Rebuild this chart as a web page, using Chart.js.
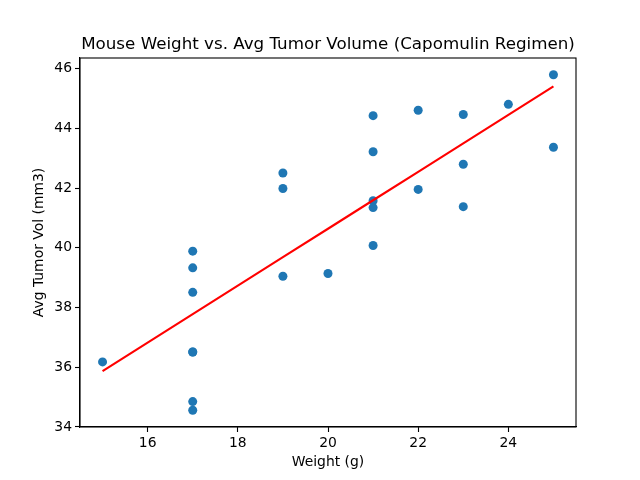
<!DOCTYPE html>
<html>
<head>
<meta charset="utf-8">
<script src="https://cdn.jsdelivr.net/npm/chart.js@4"></script>
<style>
html,body{margin:0;padding:0;background:#fff;}
#c{display:block;}
</style>
</head>
<body>
<canvas id="c" width="640" height="480"></canvas>
<script>
// Data: mouse weight (g) and average tumor volume (mm3), Capomulin regimen
const weights = [22, 21, 17, 19, 22, 24, 20, 23, 21, 21, 19, 17, 19, 25, 17, 25, 17, 23, 17, 17, 21, 23, 21, 15, 17];
const avgTumorVol = [41.96, 40.08, 36.51, 41.99, 44.61, 44.81, 39.14, 44.47, 43.22, 44.43, 42.51, 34.85, 39.05, 45.80, 36.51, 43.37, 34.56, 42.80, 39.33, 39.89, 41.58, 41.38, 41.35, 36.18, 38.51];
const xTicks = [16, 18, 20, 22, 24];
const yTicks = [34, 36, 38, 40, 42, 44, 46];
const titleText = 'Mouse Weight vs. Avg Tumor Volume (Capomulin Regimen)';

// Linear regression from data
const n = weights.length;
const mx = weights.reduce((a,b)=>a+b,0)/n;
const my = avgTumorVol.reduce((a,b)=>a+b,0)/n;
let sxy=0, sxx=0;
for (let i=0;i<n;i++){ sxy += (weights[i]-mx)*(avgTumorVol[i]-my); sxx += (weights[i]-mx)**2; }
const slope = sxy/sxx, intercept = my - slope*mx;
const sortedW = [...new Set(weights)].sort((a,b)=>a-b);
const lineData = sortedW.map(w => ({x:w, y:slope*w+intercept}));
const scatterData = weights.map((w,i)=>({x:w, y:avgTumorVol[i]}));

function pad(arr){ const lo=Math.min(...arr), hi=Math.max(...arr), m=(hi-lo)*0.05; return [lo-m, hi+m]; }
const [xmin,xmax] = pad(weights);
const [ymin,ymax] = pad(avgTumorVol);

const FONT = "'DejaVu Sans', sans-serif";

const boxPlugin = {
  id:'box',
  afterDraw(chart){
    const {ctx, chartArea:a} = chart;
    ctx.save();
    ctx.strokeStyle='#000'; ctx.lineWidth=1.1;
    ctx.strokeRect(a.left, a.top, a.right-a.left, a.bottom-a.top);
    ctx.fillStyle='#000';
    ctx.font = "16.7px " + FONT;
    ctx.textAlign='center'; ctx.textBaseline='alphabetic';
    ctx.fillText(titleText, (a.left+a.right)/2, a.top - 9);
    ctx.restore();
  }
};

new Chart(document.getElementById('c'), {
  type:'scatter',
  data:{
    datasets:[
      {type:'scatter', data:scatterData, backgroundColor:'#1f77b4', borderColor:'#1f77b4', pointRadius:4.5, pointHoverRadius:4.5, borderWidth:0, order:2},
      {type:'line', data:lineData, borderColor:'#ff0000', borderWidth:2.1, pointRadius:0, fill:false, tension:0, order:1}
    ]
  },
  plugins:[boxPlugin],
  options:{
    responsive:false, animation:false, devicePixelRatio:1,
    layout:{padding:{left:0, right:64, top:58, bottom:0}},
    plugins:{
      legend:{display:false}, tooltip:{enabled:false}, title:{display:false}
    },
    scales:{
      x:{
        type:'linear', min:xmin, max:xmax,
        afterBuildTicks(s){ s.ticks = xTicks.map(v=>({value:v})); },
        afterFit(s){ s.height = 53; },
        grid:{drawOnChartArea:false, drawTicks:true, tickLength:5, tickColor:'#000', tickWidth:1.1},
        border:{display:true, color:'#000', width:1.1},
        ticks:{color:'#000', font:{family:FONT, size:13.9}, padding:3, maxRotation:0},
        title:{display:true, text:'Weight (g)', color:'#000', font:{family:FONT, size:13.9}, padding:{top:0, bottom:9.5}}
      },
      y:{
        type:'linear', min:ymin, max:ymax,
        afterBuildTicks(s){ s.ticks = yTicks.map(v=>({value:v})); },
        afterFit(s){ s.width = 80; },
        grid:{drawOnChartArea:false, drawTicks:true, tickLength:5, tickColor:'#000', tickWidth:1.1},
        border:{display:true, color:'#000', width:1.1},
        ticks:{color:'#000', font:{family:FONT, size:13.9}, padding:3},
        title:{display:true, text:'Avg Tumor Vol (mm3)', color:'#000', font:{family:FONT, size:13.9}, padding:{top:31.5, bottom:0}}
      }
    }
  }
});
</script>
</body>
</html>
